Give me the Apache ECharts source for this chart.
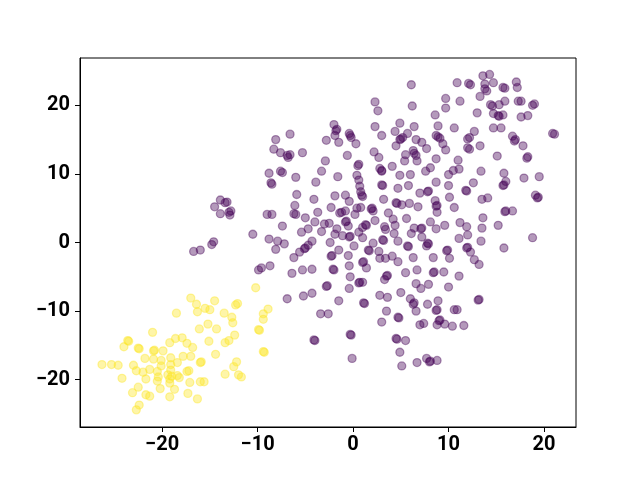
<!DOCTYPE html>
<html>
<head>
<meta charset="utf-8">
<script src="https://cdn.jsdelivr.net/npm/echarts@6/dist/echarts.min.js"></script>
<style>html,body{margin:0;padding:0;background:#fff}#c{width:640px;height:480px}</style>
</head>
<body>
<div id="c"></div>
<script>
const xTicks = [-20, -10, 0, 10, 20];
const yTicks = [-20, -10, 0, 10, 20];

const purplePoints = [
[-13.9,6.2],[-13.2,5.9],[-13.4,5.8],[-14.5,5.2],[-13.9,4.2],[-13.0,4.4],[-12.8,4.6],[-12.9,4.0],[-10.5,1.2],[-14.8,-0.3],[-14.6,0.1],[-16.7,-1.3],[-16.0,-1.1],[-9.9,-4.0],[-9.6,-3.7],
[-2.0,17.2],[-1.8,16.3],[-1.7,16.5],[-1.9,15.6],[-2.8,14.9],[-1.5,14.6],[-0.4,15.9],[-0.3,15.6],[-0.2,15.3],[0.3,14.4],[-6.6,15.8],[-8.1,15.0],[-8.3,13.6],[-7.6,13.1],[-6.6,12.8],[-6.8,12.4],[-6.9,12.7],[-5.3,13.1],[-0.6,12.7],[-2.9,11.9],[0.5,11.2],[0.6,11.4],
[6.1,23.0],[10.9,23.3],[2.3,20.5],[2.6,19.2],[6.2,19.9],[9.7,21.0],[9.7,19.6],[11.2,20.6],[8.6,18.6],[8.9,17.0],[10.6,16.7],[2.3,16.9],[3.0,15.6],[4.9,17.4],[4.4,16.2],[6.4,16.9],[5.7,15.9],[5.2,15.3],[5.0,15.1],[4.9,15.0],[6.6,15.0],[7.2,14.6],[7.7,13.7],[8.7,15.6],[8.9,15.4],[9.1,15.2],[9.4,14.4],[9.7,13.5],[4.5,14.1],[2.2,13.2],[2.7,12.4],[5.5,12.8],[6.3,13.4],[6.4,13.0],[6.6,12.7],[5.4,11.9],[6.7,11.9],[8.7,12.2],[11.0,12.0],[2.8,10.8],[3.0,10.5],[4.1,11.1],[8.1,10.9],[10.5,10.5],[11.1,10.7],
[13.6,24.3],[14.3,24.5],[12.3,23.0],[12.1,23.2],[13.8,23.1],[14.7,23.3],[13.8,22.4],[14.0,22.1],[13.3,21.3],[15.7,22.6],[15.9,22.5],[17.1,23.4],[17.2,22.6],[14.6,19.9],[14.4,20.1],[15.3,20.1],[15.9,20.6],[17.3,20.6],[17.6,20.6],[19.0,20.2],[18.8,20.0],[13.0,18.9],[14.7,18.8],[15.2,18.5],[15.3,18.4],[15.7,18.6],[17.6,18.3],[18.3,18.5],[14.7,16.7],[15.5,16.7],[12.7,16.2],[12.0,15.1],[12.2,15.3],[13.3,14.1],[12.2,13.6],[12.0,13.8],[16.7,15.5],[17.0,15.0],[16.9,14.8],[17.8,14.1],[20.9,15.9],[21.1,15.8],[15.1,12.6],[18.3,12.5],[18.2,12.3],
[-8.8,10.1],[-7.6,10.4],[-7.4,10.2],[-8.6,8.7],[-8.5,8.5],[-6.0,9.5],[-3.9,8.8],[-3.3,10.4],[-1.6,9.6],[0.4,9.8],[0.6,9.1],[0.7,8.2],[0.8,7.4],[0.9,6.9],[1.0,6.7],[-5.9,7.0],[-4.1,6.3],[-1.9,6.8],[-0.8,6.9],[-0.4,6.0],[0.4,5.0],[0.8,5.1],[-9.0,4.1],[-8.5,4.1],[-6.1,5.4],[-6.2,4.2],[-6.0,4.1],[-5.0,3.6],[-3.7,4.4],[-2.3,5.1],[-1.4,4.3],[-1.2,4.4],[-0.8,4.6],[0.2,4.1],[-7.4,2.4],[-5.4,1.5],[-4.7,2.0],[-4.0,3.0],[-3.3,1.6],[-3.0,2.7],[-2.5,2.8],[-1.7,2.0],[-0.8,3.0],[-0.7,3.1],[-0.5,2.4],[-0.4,0.8],[-0.3,0.9],[-1.1,1.0],[-1.9,1.2],[0.6,1.5],[1.0,2.2],[1.0,0.7],[-8.8,0.5],[-7.9,0.2],[-7.2,-0.2],[-8.1,-1.0],[-4.3,0.2],[-4.7,-0.4],[-5.1,-0.9],[-5.0,-0.8],[-5.6,-1.4],[-6.2,-2.2],[-2.4,0.0],[-1.5,-1.1],[-2.3,-2.0],[-2.2,-1.9],[-0.5,-1.9],[0.1,-0.5],[-8.7,-3.4],[-6.4,-4.5],[-5.3,-4.0],[-4.3,-3.9],[-2.1,-3.9],[-2.0,-4.0],[-0.4,-3.4],
[-0.3,-5.0],[0.7,-5.8],[0.6,-5.9],[1.0,-5.8],[-2.8,-6.4],[-2.7,-6.3],[-0.4,-6.7],[-6.9,-8.2],[-5.2,-7.8],[-4.3,-7.4],[-1.5,-8.5],[-3.4,-10.4],[-2.6,-10.4],[-4.1,-14.2],[-4.0,-14.3],[-0.3,-13.4],[-0.2,-13.5],[-0.1,-16.9],
[3.0,10.4],[4.9,9.8],[6.0,9.9],[7.6,10.4],[8.7,8.8],[10.0,9.9],[3.1,8.3],[3.0,8.4],[4.7,7.9],[5.8,8.3],[7.0,7.2],[7.9,7.5],[7.8,7.4],[10.0,8.3],[10.1,6.6],[3.2,6.3],[4.5,5.8],[4.6,5.7],[5.1,5.5],[5.9,5.7],[6.8,5.2],[8.6,6.1],[8.7,5.3],[8.8,5.4],[8.8,4.4],[10.6,5.1],[2.0,5.0],[1.9,4.9],[2.1,4.6],[3.7,4.3],[4.2,3.4],[5.6,3.5],[1.4,2.5],[1.3,2.6],[2.3,3.2],[3.3,2.3],[3.4,1.9],[4.4,2.5],[4.3,1.3],[6.1,1.3],[6.4,2.1],[7.1,2.0],[7.2,2.1],[8.1,3.0],[8.7,2.0],[9.6,2.5],[11.2,2.9],[2.1,-0.1],[3.2,0.3],[3.1,0.4],[4.7,0.2],[5.7,-0.5],[5.8,-0.6],[7.2,0.8],[7.9,-0.2],[7.8,-0.1],[7.7,-0.5],[9.9,-1.1],[9.8,-1.2],[11.1,0.6],[1.6,-1.1],[1.7,-1.2],[2.7,-1.3],[2.8,-2.3],[4.1,-2.0],[3.4,-2.3],[4.7,-2.8],[6.3,-2.2],[8.4,-2.2],[10.1,-2.3],[1.1,-2.8],[1.0,-2.9],[1.4,-3.7],
[13.4,10.4],[15.8,10.1],[16.0,8.9],[15.7,8.3],[15.8,8.4],[17.9,9.4],[19.5,9.6],[12.6,8.7],[11.8,7.6],[11.9,7.5],[13.5,6.3],[14.1,6.5],[19.1,6.9],[19.4,6.6],[19.3,6.5],[16.0,4.6],[15.9,4.5],[16.7,4.6],[13.6,3.6],[15.2,2.5],[11.9,2.3],[13.5,2.1],[12.0,1.1],[18.8,0.7],[13.4,0.2],[11.9,-0.8],[12.0,-0.7],[12.3,-1.4],[15.8,-0.8],[12.7,-2.5],[13.2,-3.2],
[3.5,-4.9],[3.6,-4.8],[3.3,-5.4],[5.5,-4.4],[6.7,-4.0],[8.4,-4.4],[8.5,-4.3],[9.5,-4.3],[11.1,-4.9],[6.6,-6.0],[7.1,-6.7],[7.9,-6.1],[10.0,-6.5],[5.0,-7.3],[2.8,-7.7],[3.6,-8.0],[6.0,-8.2],[6.3,-9.0],[6.4,-8.8],[6.6,-10.0],[7.8,-9.0],[8.9,-8.5],[8.8,-9.8],[8.7,-9.9],[10.6,-9.8],[10.9,-9.8],[1.2,-8.9],[1.1,-8.8],[3.5,-10.0],[4.7,-10.9],[4.8,-11.0],[3.0,-11.6],[7.0,-12.0],[7.4,-11.8],[9.0,-11.4],[9.1,-11.3],[8.8,-12.0],[9.6,-11.9],[10.4,-12.2],[11.6,-12.1],[4.6,-14.1],[4.5,-14.0],[5.5,-14.3],[4.9,-16.0],[5.1,-18.0],[6.7,-17.5],[7.7,-16.9],[8.0,-17.4],[8.1,-17.3],[8.8,-17.2],[13.1,-8.4],[13.2,-8.3]
];

const yellowPoints = [
[-10.2,-6.6],[-17.0,-8.1],[-16.4,-9.0],[-14.5,-8.5],[-15.5,-9.6],[-15.0,-9.8],[-16.3,-10.1],[-12.3,-9.1],[-12.1,-8.9],[-8.9,-9.7],[-9.4,-10.4],[-9.4,-11.2],[-18.5,-10.3],[-13.5,-10.3],[-12.7,-10.9],[-12.6,-11.7],[-15.2,-11.9],[-16.1,-12.6],[-14.3,-12.6],[-9.8,-12.8],[-9.9,-12.7],[-21.0,-13.1],[-12.4,-13.5],[-23.6,-14.3],[-23.5,-14.4],[-24.0,-15.2],[-22.5,-15.4],[-22.4,-15.5],[-19.2,-14.6],[-18.6,-14.0],[-17.9,-13.9],[-17.4,-14.7],[-16.8,-15.3],[-15.1,-14.4],[-13.4,-14.6],[-13.0,-14.3],[-9.3,-16.0],[-9.4,-15.9],[-20.9,-15.8],[-20.8,-15.7],[-19.9,-15.8],[-14.4,-16.3],[-21.8,-16.9],[-20.9,-17.0],[-20.1,-17.2],[-19.1,-16.8],[-18.4,-17.5],[-17.8,-16.6],[-17.0,-16.6],[-16.0,-17.5],[-15.9,-17.4],[-12.2,-17.4],[-12.5,-18.1],[-26.3,-17.8],[-25.3,-17.8],[-24.6,-17.9],[-23.0,-17.9],[-22.7,-18.7],[-22.0,-18.9],[-21.3,-18.5],[-20.5,-18.8],[-20.1,-18.0],[-19.1,-17.8],[-19.1,-18.6],[-17.4,-18.8],[-17.2,-18.7],[-24.2,-19.8],[-21.7,-19.9],[-20.4,-19.6],[-20.5,-20.2],[-19.4,-19.3],[-19.0,-19.5],[-19.2,-19.9],[-18.4,-19.4],[-18.2,-19.7],[-17.1,-20.4],[-16.0,-20.3],[-15.6,-20.3],[-13.4,-19.2],[-12.0,-19.3],[-11.7,-19.6],[-22.5,-21.1],[-23.1,-21.9],[-20.2,-21.3],[-19.2,-20.5],[-18.7,-21.4],[-21.7,-22.2],[-21.3,-22.4],[-19.2,-22.5],[-17.3,-22.0],[-16.3,-22.8],[-22.4,-23.7],[-22.7,-24.4]
];

const chart = echarts.init(document.getElementById('c'), null, {renderer: 'canvas'});
const fmt = v => String(v).replace('-', '\u2212');
chart.setOption({
  animation: false,
  backgroundColor: '#fff',
  grid: {left: 80, right: 64, top: 58, bottom: 53, show: true, borderColor: '#000', borderWidth: 1,
         containLabel: false, outerBoundsMode: 'none'},
  xAxis: {
    type: 'value', min: -28.6, max: 23.35,
    splitLine: {show: false},
    axisLine: {show: true, onZero: false, lineStyle: {color: '#000', width: 1}},
    axisTick: {show: true, length: 5, lineStyle: {color: '#000'}, customValues: xTicks},
    axisLabel: {show: true, margin: 8, customValues: xTicks, formatter: fmt,
      color: '#000', fontSize: 20, fontWeight: 'bold', fontFamily: 'Roboto'}
  },
  yAxis: {
    type: 'value', min: -26.9, max: 26.9,
    splitLine: {show: false},
    axisLine: {show: true, onZero: false, lineStyle: {color: '#000', width: 1}},
    axisTick: {show: true, length: 5, lineStyle: {color: '#000'}, customValues: yTicks},
    axisLabel: {show: true, margin: 10, customValues: yTicks, formatter: fmt,
      color: '#000', fontSize: 20, fontWeight: 'bold', fontFamily: 'Roboto'}
  },
  series: [
    {type: 'scatter', data: purplePoints, symbol: 'circle', symbolSize: 8,
     itemStyle: {color: 'rgba(68,1,84,0.4)', borderColor: 'rgba(68,1,84,0.4)', borderWidth: 1.3, opacity: 1}},
    {type: 'scatter', data: yellowPoints, symbol: 'circle', symbolSize: 8,
     itemStyle: {color: 'rgba(253,231,37,0.4)', borderColor: 'rgba(253,231,37,0.4)', borderWidth: 1.3, opacity: 1}}
  ]
});
</script>
</body>
</html>
